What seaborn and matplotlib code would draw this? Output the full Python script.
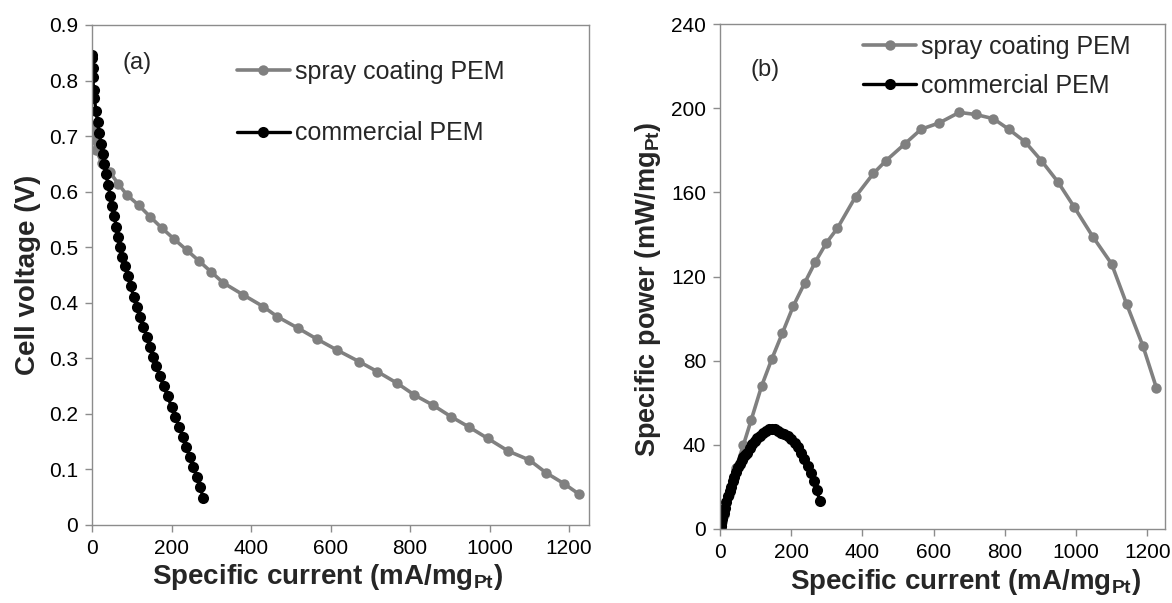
import matplotlib
matplotlib.use("Agg")
import matplotlib.pyplot as plt
import seaborn as sns
import pandas as pd

# ---------------- data ----------------
spray_current = [0, 5, 10, 25, 45, 66, 88, 117, 146, 175, 206, 238, 268, 299, 330,
                 381, 431, 466, 519, 565, 616, 672, 718, 768, 811, 857, 903, 949,
                 995, 1047, 1100, 1142, 1188, 1226]
spray_voltage = [0.714, 0.695, 0.675, 0.652, 0.635, 0.614, 0.594, 0.576, 0.555, 0.535,
                 0.515, 0.495, 0.476, 0.456, 0.436, 0.414, 0.393, 0.375, 0.354, 0.335,
                 0.315, 0.294, 0.276, 0.255, 0.234, 0.216, 0.195, 0.176, 0.156, 0.133,
                 0.117, 0.094, 0.074, 0.055]
spray_power = [0, 3.5, 6.8, 16, 29, 40, 52, 68, 81, 93, 106, 117, 127, 136, 143,
               158, 169, 175, 183, 190, 193, 198, 197, 195, 190, 184, 175, 165,
               153, 139, 126, 107, 87, 67]

comm_current = [1, 1, 1.5, 2, 4, 6, 10, 14, 18, 23, 27, 31, 36, 40, 46, 51, 56, 61,
                66, 70, 75, 83, 90, 97, 105, 112, 120, 129, 138, 146, 154, 162, 170,
                180, 190, 200, 210, 219, 228, 237, 246, 255, 264, 272, 280]
comm_voltage = [0.846, 0.840, 0.822, 0.807, 0.783, 0.768, 0.745, 0.725, 0.705, 0.686,
                0.668, 0.649, 0.631, 0.612, 0.593, 0.574, 0.556, 0.537, 0.518, 0.500,
                0.483, 0.466, 0.448, 0.430, 0.411, 0.393, 0.375, 0.357, 0.339, 0.321,
                0.303, 0.286, 0.268, 0.250, 0.232, 0.213, 0.195, 0.177, 0.159, 0.140,
                0.122, 0.104, 0.086, 0.068, 0.048]
comm_power = [0.8, 0.8, 1.2, 1.6, 3.1, 4.6, 7.5, 10.2, 12.7, 15.8, 18.0, 20.1, 22.7,
              24.5, 27.3, 29.3, 31.1, 32.8, 34.2, 35.0, 36.2, 38.7, 40.3, 41.7, 43.2,
              44.2, 45.5, 46.6, 47.3, 47.6, 47.3, 46.6, 45.8, 45.0, 44.1, 42.6, 41.0,
              38.8, 36.3, 33.2, 30.0, 26.5, 22.7, 18.5, 13.4]

series_names = ["spray coating PEM", "commercial PEM"]

x_ticks = [0, 200, 400, 600, 800, 1000, 1200]
v_ticks = [0, 0.1, 0.2, 0.3, 0.4, 0.5, 0.6, 0.7, 0.8, 0.9]
v_tick_labels = ["0", "0.1", "0.2", "0.3", "0.4", "0.5", "0.6", "0.7", "0.8", "0.9"]
p_ticks = [0, 40, 80, 120, 160, 200, 240]

# ---------------- style ----------------
sns.set_style("ticks")
plt.rcParams["font.family"] = ["Liberation Sans", "DejaVu Sans"]
plt.rcParams["mathtext.fontset"] = "custom"
plt.rcParams["mathtext.rm"] = "Liberation Sans"
plt.rcParams["mathtext.bf"] = "Liberation Sans:bold"

SPINE = "#8c8c8c"
GRAY = "#808080"
BLACK = "#000000"

fig = plt.figure(figsize=(11.72, 6.03), dpi=100)
axL = fig.add_axes([92 / 1172, (603 - 525) / 603, 497 / 1172, 500 / 603])
axR = fig.add_axes([720 / 1172, (603 - 529) / 603, 445 / 1172, 505 / 603])

spray_df = pd.DataFrame({"I": spray_current, "V": spray_voltage, "P": spray_power})
comm_df = pd.DataFrame({"I": comm_current, "V": comm_voltage, "P": comm_power})

line_kw = dict(marker="o", sort=False, markeredgewidth=0, estimator=None)

for ax, ycol in [(axL, "V"), (axR, "P")]:
    sns.lineplot(data=spray_df, x="I", y=ycol, ax=ax, color=GRAY, linewidth=2.6,
                 markersize=7.5, label=series_names[0], **line_kw)
    sns.lineplot(data=comm_df, x="I", y=ycol, ax=ax, color=BLACK, linewidth=2.4,
                 markersize=8, label=series_names[1], **line_kw)
    ax.set_xlim(0, 1250)
    ax.set_xticks(x_ticks)
    ax.set_xticklabels([str(t) for t in x_ticks])
    for s in ax.spines.values():
        s.set_color(SPINE)
        s.set_linewidth(1.0)
    ax.tick_params(axis="both", direction="out", length=5, width=1, color=SPINE,
                   labelsize=15, pad=5, labelcolor="black")

axL.set_xlabel(r"Specific current (mA/mg$_{\mathbf{Pt}}$)", fontsize=20,
               fontweight="bold", labelpad=3)
axR.set_xlabel(r"Specific current (mA/mg$_{\mathbf{Pt}}$)", fontsize=20,
               fontweight="bold", labelpad=4)
axL.xaxis.label.set_x(0.473)
axR.xaxis.label.set_x(0.551)

axL.set_ylim(0, 0.9)
axL.set_yticks(v_ticks)
axL.set_yticklabels(v_tick_labels)
axL.set_ylabel("Cell voltage (V)", fontsize=20, fontweight="bold", labelpad=6)

axR.set_ylim(0, 240)
axR.set_yticks(p_ticks)
axR.set_yticklabels([str(t) for t in p_ticks])
axR.set_ylabel(r"Specific power (mW/mg$_{\mathbf{Pt}}$)", fontsize=19.5,
               fontweight="bold", labelpad=6)
axR.yaxis.label.set_y(0.475)

axL.legend(loc="upper left", bbox_to_anchor=(0.292, 0.93), frameon=False,
           fontsize=18, handlelength=2.1, handletextpad=0.2, labelspacing=1.5,
           borderpad=0, borderaxespad=0)
axR.legend(loc="upper left", bbox_to_anchor=(0.322, 0.978), frameon=False,
           fontsize=18, handlelength=2.1, handletextpad=0.2, labelspacing=0.6,
           borderpad=0, borderaxespad=0)

axL.text(0.09, 0.924, "(a)", transform=axL.transAxes, fontsize=17,
         ha="center", va="center")
axR.text(0.101, 0.909, "(b)", transform=axR.transAxes, fontsize=17,
         ha="center", va="center")

fig.savefig("out.png", dpi=100)
